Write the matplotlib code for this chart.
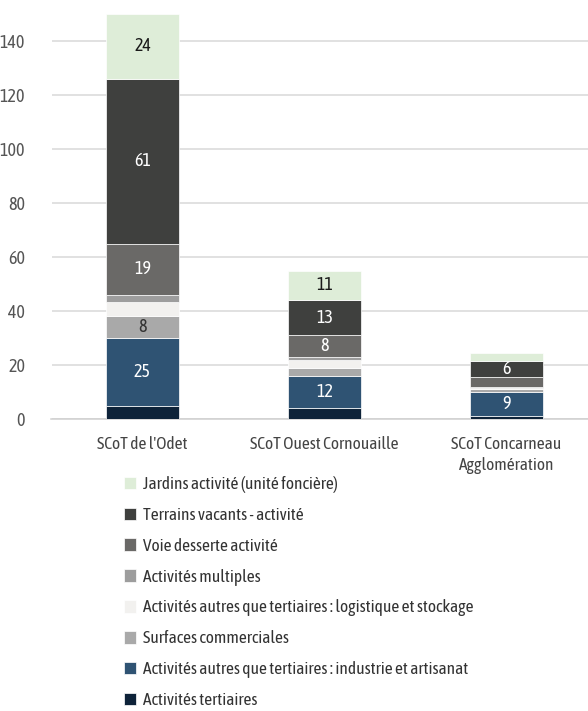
import numpy as np
import matplotlib.pyplot as plt

plt.rcParams["font.family"] = ["Asap Condensed", "DejaVu Sans"]

territoires = ["SCoT de l'Odet", "SCoT Ouest Cornouaille", "SCoT Concarneau\nAgglomération"]

# stacking order, bottom to top
categories = [
    "Activités tertiaires",
    "Activités autres que tertiaires : industrie et artisanat",
    "Surfaces commerciales",
    "Activités autres que tertiaires : logistique et stockage",
    "Activités multiples",
    "Voie desserte activité",
    "Terrains vacants - activité",
    "Jardins activité (unité foncière)",
]
tertiaires = [5, 4, 1]
industrie = [25, 12, 9]
commerciales = [8, 3, 1]
logistique = [5.5, 3, 0.5]
multiples = [2.5, 1, 0.5]
voie = [19, 8, 3.5]
terrains = [61, 13, 6]
jardins = [24, 11, 3]

series = [tertiaires, industrie, commerciales, logistique, multiples, voie, terrains, jardins]
colors = ["#0e2339", "#2f5373", "#a9a9a9", "#f2f1ef", "#9d9d9d", "#6a6967", "#3f403e", "#deedd8"]
text_colors = ["white", "white", "#333333", "#333333", "#333333", "white", "white", "#1a1a1a"]

fig = plt.figure(figsize=(5.88, 7.11), dpi=100)
ax = fig.add_axes([51.5 / 588, 292 / 711, 546 / 588, 418.5 / 711])

x = np.arange(len(territoires))
bottom = np.zeros(len(territoires))
handles = []
for vals, col, tcol, name in zip(series, colors, text_colors, categories):
    vals = np.array(vals, dtype=float)
    bars = ax.bar(x, vals, 0.4, bottom=bottom, color=col, edgecolor="white",
                  linewidth=0.5, label=name, zorder=3)
    handles.append(bars)
    # only the larger segments carry a value
    for xi, b, v in zip(x, bottom, vals):
        if v >= 6:
            ax.text(xi, b + v / 2, f"{v:g}", ha="center", va="center",
                    fontsize=13, color=tcol, zorder=4)
    bottom += vals

ax.set_xlim(-0.5, 2.5)
ax.set_ylim(0, 155)
ax.set_yticks(range(0, 141, 20))
ax.set_xticks(x)
ax.set_xticklabels(territoires, fontsize=12.5, color="#444444", linespacing=1.32)
ax.tick_params(axis="y", length=0, pad=19, labelsize=13, labelcolor="#555555")
ax.tick_params(axis="x", length=0, pad=12)
ax.grid(axis="y", color="#d9d9d9", linewidth=1.1, zorder=0)
for side in ["top", "right", "left"]:
    ax.spines[side].set_visible(False)
ax.spines["bottom"].set_color("#d0d0d0")
ax.spines["bottom"].set_linewidth(1.1)

fig.legend(handles[::-1], categories[::-1], loc="upper left",
           bbox_to_anchor=(117 / 588, 1 - 469 / 711), frameon=False,
           fontsize=12.5, handlelength=0.72, handleheight=0.72,
           handletextpad=0.35, labelspacing=0.8, borderaxespad=0,
           labelcolor="#333333")

fig.savefig("out.png", dpi=100)
